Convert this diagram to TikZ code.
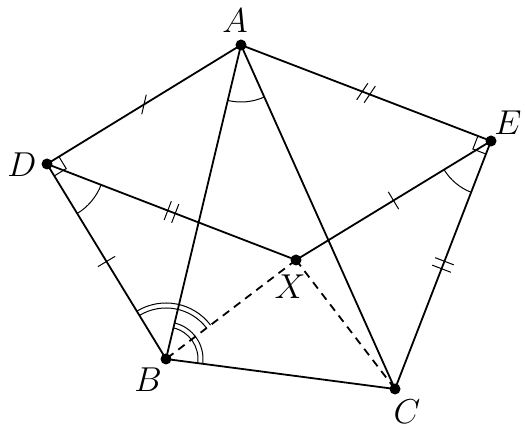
\documentclass[tikz,border=0pt]{standalone}
\usetikzlibrary{calc,angles}
\begin{document}
\begin{tikzpicture}[x=0.5pt,y=0.5pt,
  seg/.style={line width=0.9pt},
  dashseg/.style={line width=0.9pt,dash pattern=on 4pt off 3pt},
  tick/.style={line width=0.5pt},
  arcmark/.style={draw,line width=0.5pt},
  dot/.style={circle,fill=black,inner sep=0pt,minimum size=5.5pt},
  lab/.style={inner sep=0pt,font=\fontsize{16}{19}\selectfont}]
\useasboundingbox (0,0) rectangle (525,432);
\coordinate (A) at (241,387);
\coordinate (D) at (47,268);
\coordinate (E) at (491,291);
\coordinate (X) at (296,172);
\coordinate (B) at (166,73);
\coordinate (C) at (395,43);
% segments
\draw[seg] (A) -- (D);
\draw[seg] (D) -- (B);
\draw[seg] (A) -- (E);
\draw[seg] (E) -- (C);
\draw[seg] (A) -- (B);
\draw[seg] (A) -- (C);
\draw[seg] (B) -- (C);
\draw[seg] (D) -- (X);
\draw[seg] (X) -- (E);
\draw[dashseg] (X) -- (B);
\draw[dashseg] (X) -- (C);
% angle marks
\pic[arcmark,angle radius=28.5pt] {angle = B--A--C};
\pic[arcmark,angle radius=29pt] {angle = B--D--X};
\pic[arcmark,angle radius=27.5pt] {angle = X--E--C};
\pic[arcmark,angle radius=25.5pt] {angle = X--B--D};
\pic[arcmark,angle radius=28pt] {angle = X--B--D};
\pic[arcmark,angle radius=16pt] {angle = C--B--A};
\pic[arcmark,angle radius=18.5pt] {angle = C--B--A};
% right angle marks
\draw[tick] ($(D)!7pt!(A)$) -- ($(D)!7pt!(A)+(D)!7pt!(B)-(D)$) -- ($(D)!7pt!(B)$);
\draw[tick] ($(E)!7pt!(A)$) -- ($(E)!7pt!(A)+(E)!7pt!(C)-(E)$) -- ($(E)!7pt!(C)$);
% ticks
\draw[tick] ($(A)!0.5!(D)$) ++(77:5pt) -- ++(257:10pt);
\draw[tick] ($(D)!0.5!(B)$) ++(31:5pt) -- ++(211:10pt);
\draw[tick] ($(X)!0.5!(E)$) ++(121:5pt) -- ++(301:10pt);
\draw[tick] ($(A)!0.5!(E)$) ++(159:2pt) ++(56:5pt) -- ++(236:10pt);
\draw[tick] ($(A)!0.5!(E)$) ++(-21:2pt) ++(56:5pt) -- ++(236:10pt);
\draw[tick] ($(D)!0.5!(X)$) ++(159:2pt) ++(69:5pt) -- ++(249:10pt);
\draw[tick] ($(D)!0.5!(X)$) ++(-21:2pt) ++(69:5pt) -- ++(249:10pt);
\draw[tick] ($(E)!0.5!(C)$) ++(69:2pt) ++(159:5pt) -- ++(339:10pt);
\draw[tick] ($(E)!0.5!(C)$) ++(249:2pt) ++(159:5pt) -- ++(339:10pt);
% points
\node[dot] (pA) at (A) {};
\node[dot] (pD) at (D) {};
\node[dot] (pE) at (E) {};
\node[dot] (pX) at (X) {};
\node[dot] (pB) at (B) {};
\node[dot] (pC) at (C) {};
% labels
\node[lab] (lA) at (235,411) {$A$};
\node[lab] (lD) at (22,267) {$D$};
\node[lab] (lE) at (508,309) {$E$};
\node[lab] (lX) at (290,145) {$X$};
\node[lab] (lB) at (148,52) {$B$};
\node[lab] (lC) at (407,20) {$C$};
\end{tikzpicture}
\end{document}
